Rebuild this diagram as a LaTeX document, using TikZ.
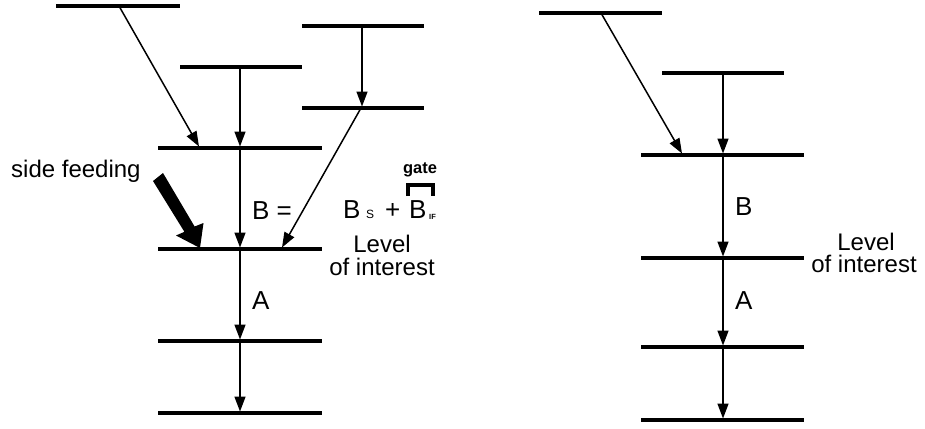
\documentclass[tikz,border=0pt]{standalone}
\usepackage{fontspec}
\setmainfont{Liberation Sans}
\usetikzlibrary{arrows.meta}
\begin{document}
\begin{tikzpicture}[x=1pt,y=-1pt,
  level/.style={line width=3.3pt},
  trans/.style={line width=1.5pt,-{Triangle[length=15pt,width=11pt]}},
  lbl/.style={font=\fontsize{24}{27}\selectfont,inner sep=0pt,anchor=base west},
  big/.style={font=\fontsize{26}{28}\selectfont,inner sep=0pt,anchor=base west},
  lblc/.style={font=\fontsize{24}{27}\selectfont,inner sep=0pt,anchor=base}]
\useasboundingbox (0,0) rectangle (925,428);
% ---------- left scheme: levels ----------
\coordinate (L1w) at (56,6);   \coordinate (L1e) at (180,6);
\coordinate (L2w) at (180,67); \coordinate (L2e) at (302,67);
\coordinate (L3w) at (302,26); \coordinate (L3e) at (424,26);
\coordinate (L4w) at (302,108);\coordinate (L4e) at (424,108);
\coordinate (L5w) at (158,148);\coordinate (L5e) at (322,148);
\coordinate (L6w) at (158,249);\coordinate (L6e) at (322,249);
\coordinate (L7w) at (158,341);\coordinate (L7e) at (322,341);
\coordinate (L8w) at (158,413);\coordinate (L8e) at (322,413);
\foreach \n in {1,...,8} {\draw[level] (L\n w) -- (L\n e);}
% transitions
\coordinate (t1s) at (119,6);  \coordinate (t1e) at (199,146.5);
\coordinate (t2s) at (240,67); \coordinate (t2e) at (240,146.5);
\coordinate (t3s) at (362,26); \coordinate (t3e) at (362,106.5);
\coordinate (t4s) at (361,108);\coordinate (t4e) at (282,247.5);
\coordinate (t5s) at (240,148);\coordinate (t5e) at (240,247.5);
\coordinate (t6s) at (240,249);\coordinate (t6e) at (240,339.5);
\coordinate (t7s) at (240,341);\coordinate (t7e) at (240,411.5);
\foreach \n in {1,...,7} {\draw[trans] (t\n s) -- (t\n e);}
% side feeding arrow (filled outline)
\coordinate (sf1) at (153,181); \coordinate (sf2) at (163,173);
\coordinate (sf3) at (194.6,226.5); \coordinate (sf4) at (203.5,223);
\coordinate (sf5) at (200,248); \coordinate (sf6) at (176,235.5);
\coordinate (sf7) at (184.4,231.8);
\fill (sf1) -- (sf2) -- (sf3) -- (sf4) -- (sf5) -- (sf6) -- (sf7) -- cycle;
% labels
\node[lbl] (sf) at (11,177) {side feeding};
\node[big] (Beq) at (252,219) {B =};
\node[big] (A1) at (252,309) {A};
\node[big] (Bs) at (343,218) {B};
\node[font=\fontsize{12}{14}\selectfont,inner sep=0pt,anchor=base west] (Ssub) at (366,218) {S};
\node[big] (plus) at (385,218) {+};
\node[big] (Bif) at (409,218) {B};
\node[font=\fontsize{7.5}{8}\bfseries\selectfont,inner sep=0pt,anchor=base west] (IFsub) at (429,219) {IF};
\coordinate (gbl) at (408,196); \coordinate (gtl) at (408,185);
\coordinate (gtr) at (433,185); \coordinate (gbr) at (433,196);
\draw[line width=3.4pt] (gbl) -- (gtl) -- (gtr) -- (gbr);
\node[font=\fontsize{16.5}{18}\bfseries\selectfont,inner sep=0pt,anchor=base] (gate) at (420,173) {gate};
\node[lblc] (lev1) at (382,252) {Level};
\node[lblc] (int1) at (382,275) {of interest};
% ---------- right scheme ----------
\coordinate (R1w) at (539,13); \coordinate (R1e) at (662,13);
\coordinate (R2w) at (662,73); \coordinate (R2e) at (784,73);
\coordinate (R3w) at (641,155);\coordinate (R3e) at (804,155);
\coordinate (R4w) at (641,258);\coordinate (R4e) at (804,258);
\coordinate (R5w) at (641,347);\coordinate (R5e) at (804,347);
\coordinate (R6w) at (641,420);\coordinate (R6e) at (804,420);
\foreach \n in {1,...,6} {\draw[level] (R\n w) -- (R\n e);}
\coordinate (u1s) at (601,13); \coordinate (u1e) at (682,153.5);
\coordinate (u2s) at (723,73); \coordinate (u2e) at (723,153.5);
\coordinate (u3s) at (723,155);\coordinate (u3e) at (723,256.5);
\coordinate (u4s) at (723,258);\coordinate (u4e) at (723,345.5);
\coordinate (u5s) at (723,347);\coordinate (u5e) at (723,418.5);
\foreach \n in {1,...,5} {\draw[trans] (u\n s) -- (u\n e);}
\node[big] (B2) at (735,215) {B};
\node[big] (A2) at (735,309) {A};
\node[lblc] (lev2) at (866,250) {Level};
\node[lblc] (int2) at (864,272) {of interest};
\end{tikzpicture}
\end{document}
